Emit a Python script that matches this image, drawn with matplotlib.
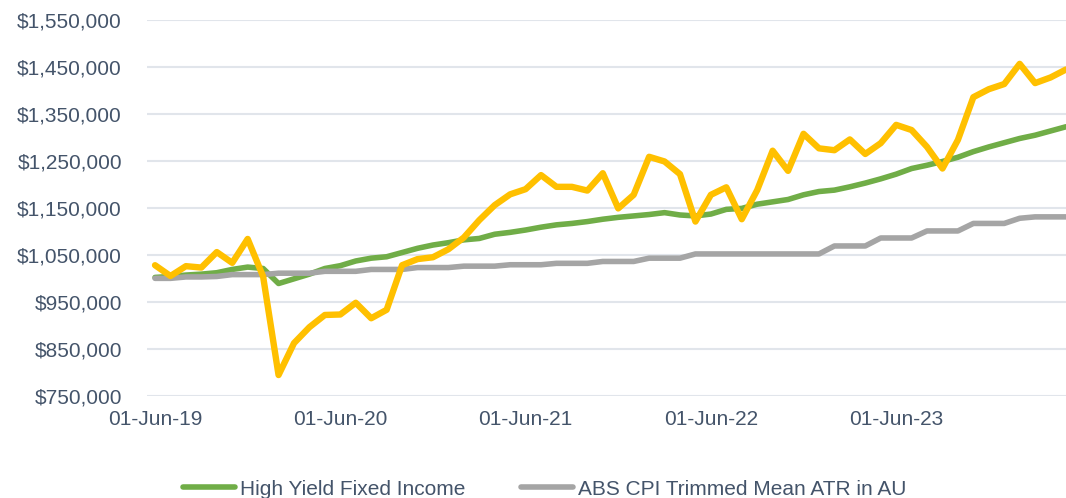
import matplotlib
matplotlib.use("Agg")
import matplotlib.pyplot as plt
from matplotlib.ticker import FuncFormatter
from matplotlib.lines import Line2D

plt.rcParams['font.family'] = ['Liberation Sans', 'DejaVu Sans']

# monthly values, Jun-2019 .. May-2024
months = list(range(60))
tick_pos = [0, 12, 24, 36, 48]
tick_labels = ['01-Jun-19', '01-Jun-20', '01-Jun-21', '01-Jun-22', '01-Jun-23']
y_ticks = [750000, 850000, 950000, 1050000, 1150000, 1250000, 1350000, 1450000, 1550000]

portfolio = [1028000, 1005000, 1026000, 1023000, 1056000, 1033000, 1084000, 1004000,
             794000, 862000, 896000, 922000, 923000, 948000, 915000, 933000,
             1028000, 1041000, 1045000, 1062000, 1087000, 1124000, 1156000, 1179000,
             1190000, 1220000, 1195000, 1195000, 1187000, 1224000, 1149000, 1178000,
             1259000, 1249000, 1222000, 1121000, 1178000, 1194000, 1126000, 1188000,
             1272000, 1229000, 1308000, 1277000, 1273000, 1296000, 1265000, 1288000,
             1327000, 1316000, 1280000, 1234000, 1295000, 1386000, 1403000, 1414000,
             1457000, 1416000, 1428000, 1445000]

high_yield = [1002000, 1004000, 1007000, 1009000, 1012000, 1019000, 1024000, 1021000,
              989000, 999000, 1009000, 1021000, 1027000, 1037000, 1043000, 1046000,
              1055000, 1064000, 1071000, 1076000, 1082000, 1085000, 1094000, 1098000,
              1103000, 1109000, 1114000, 1117000, 1121000, 1126000, 1130000, 1133000,
              1136000, 1140000, 1135000, 1133000, 1137000, 1147000, 1149000, 1158000,
              1163000, 1168000, 1178000, 1185000, 1188000, 1195000, 1203000, 1212000,
              1222000, 1234000, 1241000, 1249000, 1258000, 1270000, 1280000, 1289000,
              1298000, 1305000, 1314000, 1323000]

cpi = [1000000, 1000000, 1003000, 1003000, 1004000, 1008000, 1008000, 1008000,
       1011000, 1011000, 1011000, 1015000, 1015000, 1015000, 1019000, 1019000,
       1019000, 1023000, 1023000, 1023000, 1026000, 1026000, 1026000, 1029000,
       1029000, 1029000, 1032000, 1032000, 1032000, 1036000, 1036000, 1036000,
       1043000, 1043000, 1043000, 1052000, 1052000, 1052000, 1052000, 1052000,
       1052000, 1052000, 1052000, 1052000, 1069000, 1069000, 1069000, 1086000,
       1086000, 1086000, 1101000, 1101000, 1101000, 1117000, 1117000, 1117000,
       1128000, 1131000, 1131000, 1131000]

text_col = '#44546A'
green = '#70AD47'
grey = '#A5A5A5'
yellow = '#FFC000'

fig = plt.figure(figsize=(10.66, 4.98), dpi=100)
ax = fig.add_axes([147 / 1066, 1 - 395.7 / 498, 1 - 147 / 1066, (395.7 - 20.2) / 498])

style = dict(solid_capstyle='round', solid_joinstyle='round')
ax.plot(months, high_yield, color=green, lw=4.0, label='High Yield Fixed Income', **style)
ax.plot(months, cpi, color=grey, lw=4.0, label='ABS CPI Trimmed Mean ATR in AU', **style)
ax.plot(months, portfolio, color=yellow, lw=4.6, **style)

ax.set_ylim(750000, 1550000)
ax.set_xlim(-0.52, 59.0)
ax.set_yticks(y_ticks)
ax.yaxis.set_major_formatter(FuncFormatter(lambda v, p: '${:,.0f}'.format(v)))
ax.set_xticks(tick_pos)
ax.set_xticklabels(tick_labels)

ax.grid(axis='y', color='#E1E5EB', lw=1.5)
ax.set_axisbelow(True)
for s in ax.spines.values():
    s.set_visible(False)
ax.tick_params(axis='y', length=0, pad=18, labelsize=15, labelcolor=text_col)
ax.tick_params(axis='x', length=0, pad=10, labelsize=15, labelcolor=text_col)

handles = [Line2D([0], [0], color=green, lw=4, solid_capstyle='round'),
           Line2D([0], [0], color=grey, lw=4, solid_capstyle='round')]
leg = fig.legend(handles, ['High Yield Fixed Income', 'ABS CPI Trimmed Mean ATR in AU'],
                 loc='center left', bbox_to_anchor=(183 / 1066, 1 - 489 / 498),
                 ncol=2, frameon=False, fontsize=15, borderpad=0, borderaxespad=0,
                 handlelength=2.5, handletextpad=0.25, columnspacing=2.65)
for t in leg.get_texts():
    t.set_color(text_col)

fig.savefig('out.png', dpi=100)
